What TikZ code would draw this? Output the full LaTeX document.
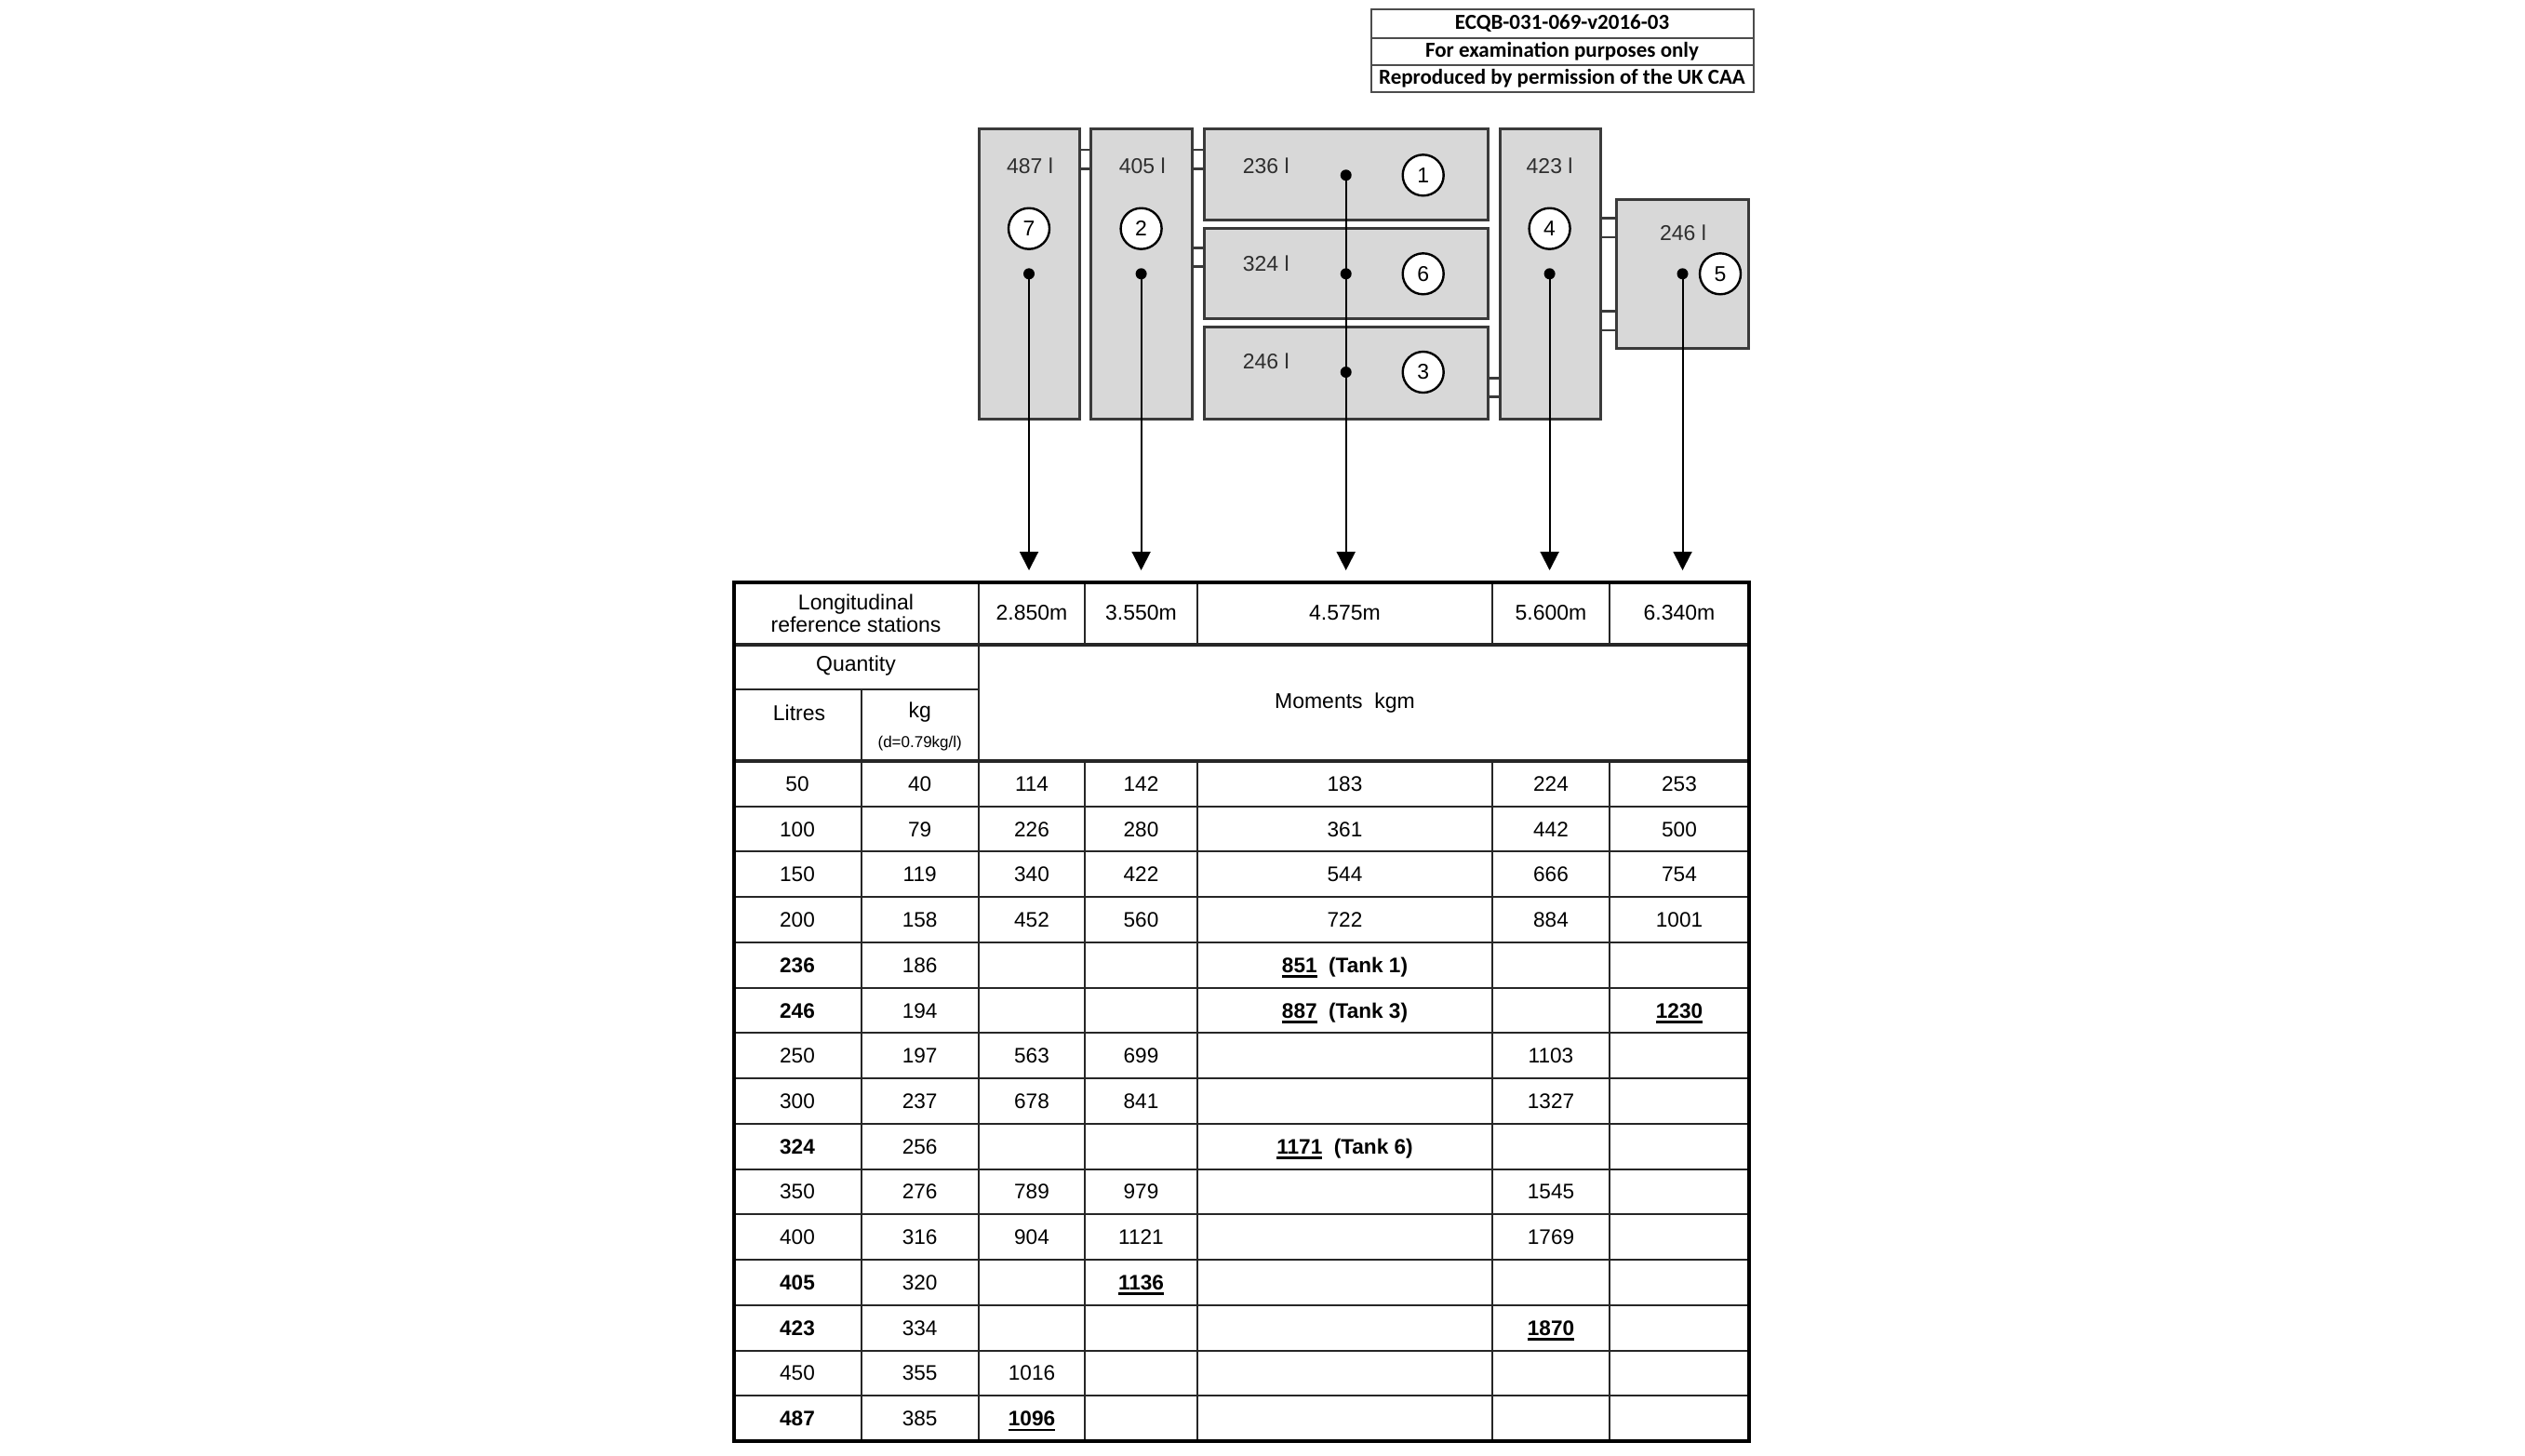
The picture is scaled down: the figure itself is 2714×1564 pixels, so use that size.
\documentclass[tikz,border=0pt]{standalone}
\usepackage{fontspec}
\setmainfont{Liberation Sans}
\newfontfamily\hdrfont{Carlito}
\usetikzlibrary{arrows.meta}
\definecolor{tankgray}{HTML}{D8D8D8}
\definecolor{edgegray}{HTML}{3A3A3A}
\definecolor{txtgray}{HTML}{2E2E2E}
\newsavebox\ulbox
\newcommand\bu[1]{\sbox\ulbox{\textbf{#1}}\smash{\rlap{\rule[-2.8pt]{\wd\ulbox}{1.3pt}}}\usebox\ulbox}
\newcommand\drow[8]{%
  \pgfmathsetmacro\ry{818+48.73*(#1+0.5)}%
  \node[cell] (r#1a) at (857,\ry) {#2};
  \node[cell] (r#1b) at (988.7,\ry) {#3};
  \node[cell] (r#1c) at (1109,\ry) {#4};
  \node[cell] (r#1d) at (1226.5,\ry) {#5};
  \node[cell] (r#1e) at (1445.5,\ry) {#6};
  \node[cell] (r#1f) at (1667,\ry) {#7};
  \node[cell] (r#1g) at (1805,\ry) {#8};
}
\tikzset{
  tank/.style={draw=edgegray, fill=tankgray, line width=1.5pt},
  pipe/.style={draw=edgegray, line width=1.25pt},
  tlabel/.style={inner sep=0, font=\fontsize{11.5}{13}\selectfont, text=txtgray},
  tnum/.style={circle, draw=black, fill=white, line width=1.2pt, minimum size=22pt, inner sep=0, font=\fontsize{11.5}{13}\selectfont},
  dotnode/.style={circle, fill=black, minimum size=6pt, inner sep=0},
  arr/.style={draw=black, line width=1pt, -{Triangle[length=10pt,width=10pt]}},
  cell/.style={inner sep=0, font=\fontsize{11.3}{13}\selectfont, text height=8pt, text depth=0pt},
  hcell/.style={inner sep=0, font=\fontsize{11.5}{12.2}\selectfont, align=center},
  inner/.style={draw=black!85, line width=1pt},
  thick/.style={draw=black!85, line width=1.6pt},
  hdr/.style={inner sep=0, font=\hdrfont\bfseries\fontsize{11.5}{13}\selectfont}
}
\begin{document}
\begin{tikzpicture}[x=0.5pt,y=-0.5pt]
\useasboundingbox (0,0) rectangle (2714,1564);

% header box
\draw[draw=black!70, line width=1pt] (1473.6,10) rectangle (1884.6,99);
\draw[draw=black!70, line width=1pt] (1473.6,40.7) -- (1884.6,40.7);
\draw[draw=black!70, line width=1pt] (1473.6,70) -- (1884.6,70);
\node[hdr] (h1) at (1679,25.4) {ECQB-031-069-v2016-03};
\node[hdr] (h2) at (1679,55.4) {For examination purposes only};
\node[hdr] (h3) at (1679,84.6) {Reproduced by permission of the UK CAA};

% pipes
\draw[pipe] (1160,161) -- (1172.7,161) (1160,181.7) -- (1172.7,181.7);
\draw[pipe] (1281,161) -- (1294,161) (1281,181.7) -- (1294,181.7);
\draw[pipe] (1281,266.7) -- (1294,266.7) (1281,286.7) -- (1294,286.7);
\draw[pipe] (1599.4,406.7) -- (1612,406.7) (1599.4,426.7) -- (1612,426.7);
\draw[pipe] (1720.6,234.3) -- (1737.5,234.3) (1720.6,255) -- (1737.5,255);
\draw[pipe] (1720.6,334.3) -- (1737.5,334.3) (1720.6,355) -- (1737.5,355);

% tanks
\draw[tank] (1052,138.3) rectangle (1160,450);
\draw[tank] (1172.7,138.3) rectangle (1281,450);
\draw[tank] (1294,138.3) rectangle (1599.4,236.7);
\draw[tank] (1294,245) rectangle (1599.4,342.7);
\draw[tank] (1294,351.7) rectangle (1599.4,450);
\draw[tank] (1612,138.3) rectangle (1720.6,450);
\draw[tank] (1737.5,214.3) rectangle (1879,374);

% tank labels
\node[tlabel] (l7) at (1107,178.3) {487 l};
\node[tlabel] (l2) at (1227.7,178.3) {405 l};
\node[tlabel] (l1) at (1360.8,178.3) {236 l};
\node[tlabel] (l6) at (1360.8,283) {324 l};
\node[tlabel] (l3) at (1360.8,388) {246 l};
\node[tlabel] (l4) at (1665.6,178.3) {423 l};
\node[tlabel] (l5) at (1809,250) {246 l};

% tank numbers
\node[tnum] (c7) at (1106,245.7) {7};
\node[tnum] (c2) at (1226.6,245.7) {2};
\node[tnum] (c1) at (1529.7,188.3) {1};
\node[tnum] (c6) at (1529.7,294.3) {6};
\node[tnum] (c3) at (1529.7,400) {3};
\node[tnum] (c4) at (1665.6,245.7) {4};
\node[tnum] (c5) at (1849,294.3) {5};

% arrow targets
\coordinate (a7) at (1106,613);
\coordinate (a2) at (1226.6,613);
\coordinate (a1) at (1446.7,613);
\coordinate (a4) at (1665.6,613);
\coordinate (a5) at (1808.5,613);

% dot positions
\coordinate (p7) at (1106,294.3);
\coordinate (p2) at (1226.6,294.3);
\coordinate (p1) at (1446.7,188.3);
\coordinate (p6) at (1446.7,294.3);
\coordinate (p3) at (1446.7,400);
\coordinate (p4) at (1665.6,294.3);
\coordinate (p5) at (1808.5,294.3);

\draw[arr] (p7) -- (a7);
\draw[arr] (p2) -- (a2);
\draw[arr] (p1) -- (a1);
\draw[arr] (p4) -- (a4);
\draw[arr] (p5) -- (a5);

\node[dotnode] (d7) at (p7) {};
\node[dotnode] (d2) at (p2) {};
\node[dotnode] (d1) at (p1) {};
\node[dotnode] (d6) at (p6) {};
\node[dotnode] (d3) at (p3) {};
\node[dotnode] (d4) at (p4) {};
\node[dotnode] (d5) at (p5) {};

% table grid
\foreach \k in {1,...,14} {
  \draw[inner] (789,{818+48.73*\k}) -- (1880,{818+48.73*\k});
}
\draw[inner] (789,741) -- (1052,741);
\draw[thick] (789,693) -- (1880,693);
\draw[thick] (789,818) -- (1880,818);
\draw[inner] (1052,626) -- (1052,1549);
\draw[inner] (925.5,741) -- (925.5,1549);
\foreach \xx in {1166,1287,1604,1730} {
  \draw[inner] (\xx,626) -- (\xx,693);
  \draw[inner] (\xx,818) -- (\xx,1549);
}
\draw[draw=black, line width=2pt] (789,626) rectangle (1880,1549);

% table header
\node[hcell] (hLong) at (920,659) {Longitudinal\\reference stations};
\node[hcell] (s1) at (1109,659) {2.850m};
\node[hcell] (s2) at (1226.5,659) {3.550m};
\node[hcell] (s3) at (1445.5,659) {4.575m};
\node[hcell] (s4) at (1667,659) {5.600m};
\node[hcell] (s5) at (1805,659) {6.340m};
\node[hcell] (hQ) at (920,716) {Quantity};
\node[hcell] (hL) at (859,766) {Litres};
\node[hcell] (hK) at (988.7,766) {kg};
\node[hcell, font=\fontsize{8.5}{10}\selectfont] (hD) at (988.7,799) {(d=0.79kg/l)};
\node[hcell] (hM) at (1445.5,756) {Moments\ \ kgm};

% table data
\drow{0}{50}{40}{114}{142}{183}{224}{253}
\drow{1}{100}{79}{226}{280}{361}{442}{500}
\drow{2}{150}{119}{340}{422}{544}{666}{754}
\drow{3}{200}{158}{452}{560}{722}{884}{1001}
\drow{4}{\textbf{236}}{186}{}{}{\bu{851}\hspace{0.55em}\textbf{(Tank 1)}}{}{}
\drow{5}{\textbf{246}}{194}{}{}{\bu{887}\hspace{0.55em}\textbf{(Tank 3)}}{}{\bu{1230}}
\drow{6}{250}{197}{563}{699}{}{1103}{}
\drow{7}{300}{237}{678}{841}{}{1327}{}
\drow{8}{\textbf{324}}{256}{}{}{\bu{1171}\hspace{0.55em}\textbf{(Tank 6)}}{}{}
\drow{9}{350}{276}{789}{979}{}{1545}{}
\drow{10}{400}{316}{904}{1121}{}{1769}{}
\drow{11}{\textbf{405}}{320}{}{\bu{1136}}{}{}{}
\drow{12}{\textbf{423}}{334}{}{}{}{\bu{1870}}{}
\drow{13}{450}{355}{1016}{}{}{}{}
\drow{14}{\textbf{487}}{385}{\bu{1096}}{}{}{}{}
\end{tikzpicture}
\end{document}
